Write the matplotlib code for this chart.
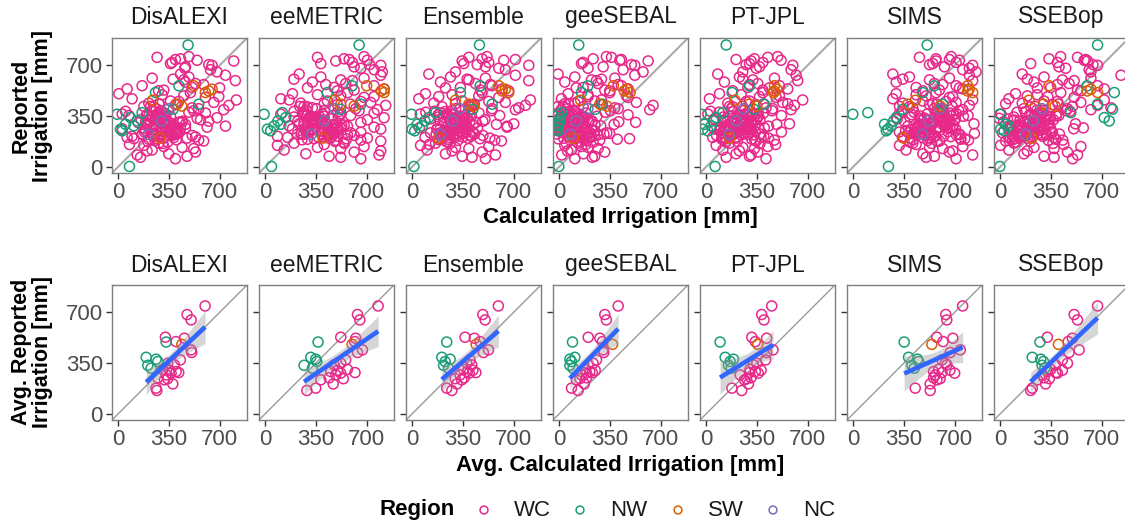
import numpy as np
import matplotlib.pyplot as plt

plt.rcParams['font.family'] = ['Liberation Sans', 'DejaVu Sans']

models = ['DisALEXI', 'eeMETRIC', 'Ensemble', 'geeSEBAL', 'PT-JPL', 'SIMS', 'SSEBop']
regions = ['WC', 'NW', 'SW', 'NC']
region_colors = {'WC': '#E7298A', 'NW': '#1B9E77', 'SW': '#D95F02', 'NC': '#7570B3'}
ticks = [0, 350, 700]

# ---- field-year values (mm): reported irrigation, one entry per field-year ----
reported_wc = [712, 745, 690, 760, 735, 670, 700, 655, 730, 720, 680, 755, 705, 740,
               640, 585, 620, 548, 600, 575, 530, 612, 560, 538, 632, 595, 525, 568, 545, 605,
               470, 505, 440, 415, 498, 455, 430, 512, 402, 480, 445, 395, 425, 462, 408, 490, 452, 418, 436, 485,
               320, 365, 290, 345, 388, 305, 332, 372, 284, 355, 312, 340, 298, 378, 326, 360, 282, 350, 308, 384,
               294, 336, 368, 316,
               248, 205, 268, 226, 186, 258, 236, 212, 275, 192, 242, 218, 264, 200, 232, 180, 252, 222, 270, 196,
               240, 208, 262, 228,
               150, 118, 165, 92, 136, 75, 128, 104, 58, 142, 84, 112, 68, 156,
               302, 246, 355, 188, 274, 331, 219, 392, 263, 310, 238, 347, 172, 286, 365, 228, 297, 254, 418, 203,
               324, 279, 361, 214, 243, 338, 195, 306, 268, 382, 231, 289, 352, 177, 316, 259, 402, 222, 271, 343,
               199, 327, 250, 374, 285, 210, 358, 236, 298, 163, 322, 266, 389, 241, 311, 184, 348, 276, 225, 434]
reported_nw = [840, 5, 364, 261, 295, 341, 375, 284, 250, 513, 433, 559, 318, 398]
reported_sw = [536, 524, 513, 433, 420, 460, 560, 200]
reported_nc = [318, 226, 402]

# calculated irrigation per model, same field-year order (WC, NW, SW, NC)
disalexi_calc = [
    362, 431, 465, 488, 545, 637, 648, 682, 797, 373, 460, 270, 625, 396,
    431, 465, 488, 511, 453, 534, 316, 236, 167, 64, 740, 808, 280, 590, 700, 380,
    98, 7, 213, 247, 305, 362, 396, 499, 556, 602, 660, 728, 763, 815, 511, 453, 419, 179, 282, 694,
    213, 30, 388, 259, 522, 142, 305, 602, 350, 76, 442, 682, 201, 488, 568, 282, 740, 362, 419, 53,
    465, 545, 327, 625,
    305, 64, 430, 167, 556, 259, 350, 98, 614, 213, 396, 511, 30, 476, 236, 590, 190, 373, 465, 110,
    327, 534, 259, 404,
    179, 236, 282, 350, 442, 476, 522, 534, 396, 316, 133, 201, 156, 80,
    288, 352, 214, 402, 305, 261, 378, 236, 330, 190, 415, 276, 342, 248, 318, 170, 365, 295, 226, 384,
    254, 338, 200, 290, 426, 312, 268, 357, 182, 240, 390, 325, 279, 206, 445, 301, 264, 347, 372, 228,
    315, 160, 408, 283, 336, 247, 198, 392, 272, 309, 221, 361, 298, 184, 428, 256, 330, 377, 243, 286,
    483, 80, -5, 18, 53, 87, 167, 110, 30, 259, 556, 420, 133, 380,
    648, 625, 602, 408, 440, 240, 520, 290,
    300, 210, 350]
eemetric_calc = [
    385, 545, 614, 682, 705, 751, 797, 808, 488, 602, 660, 362, 720, 580,
    236, 327, 385, 476, 522, 556, 614, 682, 751, 820, 797, 602, 499, 419, 293, 200,
    110, 190, 247, 293, 362, 430, 499, 568, 625, 682, 728, 774, 831, 167, 327, 522, 660, 270, 408, 751,
    316, 110, 545, 201, 648, 270, 453, 751, 167, 590, 385, 820, 236, 499, 705, 293, 568, 408, 660, 201,
    476, 339, 522, 385,
    385, 156, 522, 224, 660, 339, 590, 87, 751, 293, 476, 614, 190, 705, 430, 797, 282, 568, 499, 339,
    660, 408, 797, 250,
    87, 133, 201, 282, 362, 442, 522, 614, 660, 682, 785, 797, 522, 408,
    402, 296, 468, 255, 520, 338, 431, 287, 488, 352, 446, 310, 542, 268, 397, 476, 325, 509, 240, 455,
    372, 418, 281, 497, 436, 304, 563, 343, 461, 270, 389, 528, 316, 482, 227, 413, 356, 449, 292, 505,
    441, 330, 392, 260, 474, 365, 516, 301, 425, 547, 348, 283, 409, 459, 322, 492, 376, 438, 265, 588,
    648, 46, -5, 18, 110, 144, 121, 64, 40, 430, 660, 600, 90, 520,
    820, 800, 820, 522, 614, 480, 700, 400,
    410, 320, 480]
ensemble_calc = [
    357, 483, 506, 517, 632, 643, 804, 300, 346, 529, 598, 392, 449, 712,
    117, 197, 266, 334, 392, 437, 472, 506, 552, 621, 712, 804, 666, 540, 231, 380,
    48, 94, 151, 208, 277, 346, 414, 483, 552, 598, 643, 712, 781, 815, 735, 460, 529, 392, 300, 185,
    262, 58, 421, 183, 548, 301, 127, 462, 347, 604, 222, 379, 701, 96, 503, 275, 655, 318, 441, 156,
    582, 364, 240, 488,
    333, 91, 452, 213, 571, 292, 128, 407, 655, 251, 372, 489, 173, 536, 311, 616, 228, 395, 52, 468,
    266, 350, 195, 432,
    60, 105, 163, 231, 300, 346, 392, 483, 506, 529, 575, 277, 414, 120,
    305, 232, 362, 188, 277, 330, 214, 391, 258, 346, 199, 318, 244, 372, 285, 167, 338, 223, 404, 263,
    295, 357, 181, 312, 249, 383, 206, 327, 271, 229, 349, 292, 410, 238, 366, 175, 301, 254, 335, 217,
    386, 268, 322, 195, 353, 284, 240, 421, 309, 263, 191, 344, 276, 227, 397, 316, 252, 369, 289, 430,
    465, 14, -2, 2, 37, 117, 163, 71, 20, 334, 552, 470, 90, 420,
    643, 620, 666, 392, 426, 300, 598, 185,
    280, 200, 330]
geesebal_calc = [
    156, 236, 305, 327, 419, 442, 522, 579, 614, 167, 201, 362, 499, 430,
    -5, 41, 110, 167, 224, 270, 316, 385, 430, 476, 522, 259, 350, 408, 120, 293,
    18, 64, 110, 167, 201, 247, 293, 350, 408, 476, 533, 625, 648, 293, 385, 465, 133, -5, 41, 201,
    96, -12, 248, 44, 355, 131, 12, 187, 288, 63, 412, 158, 27, 318, 213, 476, 81, 262, 528, 112,
    380, 171, -2, 230,
    72, 205, -15, 142, 281, 31, 330, 98, 178, 402, 55, 246, 12, 121, 350, 193, -6, 269, 160, 486,
    84, 227, 40, 310,
    41, 87, 133, 170, 201, 247, 270, 316, 110, 156, 20, 60, 230, 185,
    62, 128, -8, 175, 94, 37, 151, 14, 110, 203, 48, 83, 236, 22, 140, -16, 71, 188, 30, 120,
    158, 5, 99, 214, 56, 133, -4, 167, 77, 42, 195, 106, 17, 145, 88, 226, 60, 124, -12, 182,
    34, 115, 246, 69, 9, 152, 92, 28, 171, 51, 137, 3, 103, 210, 44, 80, 160, 19, 130, 65,
    137, 0, -5, -16, 0, 10, 20, -10, -5, 156, 300, 200, 5, 250,
    467, 450, 490, 282, 330, 150, 375, 100,
    120, 80, 200]
ptjpl_calc = [
    300, 334, 369, 494, 517, 586, 598, 254, 311, 392, 346, 426, 277, 208,
    82, 128, 231, 289, 323, 357, 392, 472, 506, 563, 621, 632, 185, 300, 437, 254,
    25, 94, 151, 185, 243, 300, 346, 392, 460, 483, 529, 586, 609, 666, 414, 506, 277, 163, 563, 369,
    188, 14, 342, 121, 455, 263, 58, 397, 222, 520, 146, 306, 575, 91, 372, 238, 431, 163, 279, 33,
    488, 210, 351, 125,
    226, 47, 363, 152, 471, 258, 109, 398, 190, 316, 520, 74, 283, 431, 172, 345, 96, 242, 402, 134,
    301, 208, 60, 375,
    71, 117, 163, 208, 254, 300, 334, 357, 414, 426, 311, 231, 140, 480,
    214, 152, 288, 118, 246, 330, 183, 266, 97, 309, 205, 357, 139, 233, 276, 168, 321, 194, 252, 380,
    126, 294, 225, 162, 341, 258, 109, 236, 312, 187, 270, 146, 363, 217, 240, 299, 174, 328, 132, 261,
    207, 349, 156, 283, 228, 115, 318, 243, 196, 372, 264, 141, 305, 221, 178, 337, 250, 103, 290, 398,
    140, 64, -32, -21, -9, 71, 117, 37, 14, 181, 400, 300, 50, 330,
    488, 470, 465, 300, 350, 200, 472, 163,
    210, 160, 260]
sims_calc = [
    550, 572, 630, 676, 733, 756, 824, 847, 572, 710, 801, 458, 527, 664,
    275, 298, 389, 435, 527, 561, 595, 664, 710, 756, 801, 824, 481, 618, 733, 344,
    275, 298, 344, 389, 435, 481, 527, 572, 618, 664, 710, 756, 801, 824, 412, 504, 641, 321, 550, 687,
    476, 318, 622, 392, 728, 541, 305, 670, 448, 792, 356, 588, 833, 420, 512, 689, 378, 760, 563, 336,
    645, 463, 712, 602,
    512, 341, 668, 430, 795, 571, 383, 624, 457, 742, 320, 540, 706, 402, 836, 597, 363, 489, 651, 770,
    422, 554, 688, 455,
    321, 366, 412, 481, 527, 561, 618, 664, 710, 756, 824, 687, 504, 435,
    552, 468, 631, 415, 589, 705, 497, 612, 440, 667, 528, 574, 392, 643, 511, 726, 456, 598, 683, 482,
    620, 537, 405, 569, 655, 490, 741, 546, 428, 604, 519, 690, 463, 581, 637, 400, 558, 712, 475, 596,
    530, 652, 448, 617, 506, 673, 565, 420, 628, 542, 698, 487, 583, 437, 661, 515, 606, 454, 736, 578,
    511, 245, 0, 241, 218, 298, 103, 263, 230, 481, 618, 560, 280, 343,
    800, 790, 824, 378, 600, 430, 790, 350,
    520, 480, 600]
ssebop_calc = [
    212, 338, 407, 418, 580, 614, 672, 626, 603, 396, 453, 534, 640, 590,
    154, 235, 304, 350, 430, 476, 534, 626, 672, 718, 833, 511, 557, 396, 258, 189,
    62, 108, 154, 212, 258, 304, 361, 419, 465, 511, 557, 626, 672, 718, 764, 189, 396, 500, 40, 330,
    187, 8, 342, 96, 455, 231, 52, 298, 142, 405, 26, 266, 520, 118, 369, 204, 74, 321, 166, 482,
    245, -4, 392, 136,
    212, 61, 348, 121, 433, 255, 18, 296, 160, 386, 90, 232, 508, 137, 316, 40, 268, 186, 574, 105,
    362, 221, 72, 410,
    5, 62, 97, 166, 235, 304, 373, 465, 500, 557, 534, 189, 373, 440,
    205, 128, 276, 86, 238, 312, 161, 254, 60, 290, 183, 347, 112, 226, 265, 145, 330, 197, 243, 372,
    98, 284, 219, 150, 356, 250, 73, 232, 305, 176, 262, 120, 388, 210, 246, 300, 165, 322, 134, 270,
    192, 340, 142, 280, 214, 90, 318, 236, 188, 365, 258, 118, 296, 224, 170, 334, 242, 80, 287, 402,
    672, 0, 0, 5, 39, 718, 488, 60, 30, 787, 672, 600, 752, 775,
    626, 600, 672, 300, 380, 200, 338, 220,
    230, 180, 290]

# ---- per-field averages (mm) ----
avg_reported = [744, 685, 648, 529, 522, 499, 480, 442, 424, 373, 350, 339, 308, 302, 293,
                286, 282, 270, 250, 244, 236, 208, 179, 163, 496, 391, 378, 362, 336, 316]
avg_region = ['WC', 'WC', 'WC', 'WC', 'WC', 'WC', 'SW', 'WC', 'WC', 'WC', 'WC', 'WC', 'WC', 'WC', 'WC',
              'WC', 'WC', 'WC', 'WC', 'WC', 'WC', 'WC', 'WC', 'WC', 'NW', 'NW', 'NW', 'NW', 'NW', 'NW']
disalexi_avg = [600, 476, 504, 327, 458, 400, 440, 504, 508, 430, 343, 389, 309, 355, 401,
                419, 366, 332, 275, 343, 321, 378, 263, 268, 332, 195, 263, 275, 206, 229]
eemetric_avg = [779, 637, 653, 522, 625, 618, 600, 671, 637, 556, 522, 476, 568, 499, 453,
                620, 522, 488, 442, 540, 385, 470, 350, 289, 366, 316, 350, 357, 270, 327]
ensemble_avg = [595, 488, 504, 366, 430, 469, 442, 527, 492, 400, 378, 412, 355, 420, 382,
                440, 395, 332, 360, 298, 343, 310, 240, 275, 240, 206, 263, 229, 218, 252]
geesebal_avg = [408, 316, 327, 202, 282, 300, 369, 305, 309, 259, 236, 202, 179, 250, 213,
                230, 190, 156, 190, 145, 121, 175, 87, 133, 94, 110, 76, 87, 76, 98]
ptjpl_avg = [453, 384, 400, 316, 418, 340, 357, 462, 418, 411, 350, 327, 304, 380, 340,
             300, 360, 236, 310, 280, 265, 293, 179, 247, 98, 133, 190, 167, 156, 175]
sims_avg = [755, 639, 646, 577, 688, 620, 543, 739, 670, 613, 636, 647, 590, 668, 555,
            613, 700, 567, 555, 600, 578, 532, 429, 532, 353, 383, 445, 452, 406, 422]
ssebop_avg = [672, 511, 534, 327, 499, 470, 403, 545, 476, 430, 465, 384, 350, 430, 327,
              384, 396, 292, 304, 340, 258, 315, 223, 212, 276, 223, 281, 300, 290, 310]

calc_by_model = dict(zip(models, [disalexi_calc, eemetric_calc, ensemble_calc, geesebal_calc,
                                  ptjpl_calc, sims_calc, ssebop_calc]))
avg_by_model = dict(zip(models, [disalexi_avg, eemetric_avg, ensemble_avg, geesebal_avg,
                                 ptjpl_avg, sims_avg, ssebop_avg]))

reported = reported_wc + reported_nw + reported_sw + reported_nc
point_colors = ([region_colors['WC']] * len(reported_wc) + [region_colors['NW']] * len(reported_nw)
                + [region_colors['SW']] * len(reported_sw) + [region_colors['NC']] * len(reported_nc))
avg_colors = [region_colors[r] for r in avg_region]

# ---- layout in pixels ----
W, H = 1125, 527
fig = plt.figure(figsize=(W / 100, H / 100), dpi=100)
lefts = [112, 259, 406, 553, 700, 847, 994]
size = 135
lim = (-40, 888)


def make_panel(left, top, show_y):
    ax = fig.add_axes([left / W, 1 - (top + size) / H, size / W, size / H])
    ax.set_xlim(lim)
    ax.set_ylim(lim)
    ax.set_xticks(ticks)
    ax.set_yticks(ticks)
    if not show_y:
        ax.tick_params(axis='y', labelleft=False)
    ax.tick_params(length=4, width=1.0, color='#333333', labelsize=16,
                   labelcolor='#4D4D4D', pad=2.5)
    for sp in ax.spines.values():
        sp.set_color('#7F7F7F')
        sp.set_linewidth(1.0)
    return ax


def add_smooth(ax, x, y):
    x = np.asarray(x, float)
    y = np.asarray(y, float)
    n = len(x)
    slope, icpt = np.polyfit(x, y, 1)
    grid = np.linspace(x.min(), x.max(), 100)
    fit = icpt + slope * grid
    resid = y - (icpt + slope * x)
    s = np.sqrt(np.sum(resid ** 2) / (n - 2))
    se = s * np.sqrt(1 / n + (grid - x.mean()) ** 2 / np.sum((x - x.mean()) ** 2))
    t = 2.048  # 95% two-sided, n - 2 = 28 dof
    ax.fill_between(grid, fit - t * se, fit + t * se, color='#999999', alpha=0.4, lw=0, zorder=3)
    ax.plot(grid, fit, color='#3366FF', lw=3.3, zorder=4, solid_capstyle='butt')


for i, (m, left) in enumerate(zip(models, lefts)):
    # top row: individual field-years
    ax = make_panel(left, 38, i == 0)
    ax.plot(lim, lim, color='#ABABAB', lw=1.5, zorder=1)
    ax.scatter(calc_by_model[m], reported, s=52, facecolors='none',
               edgecolors=point_colors, linewidths=1.1, zorder=2)
    fig.text((left + size / 2) / W, 1 - 17 / H, m, ha='center', va='center',
             fontsize=16.5, color='#1A1A1A')

    # bottom row: field averages with linear fit
    ax2 = make_panel(left, 285, i == 0)
    ax2.plot(lim, lim, color='#999999', lw=1.0, zorder=1)
    ax2.scatter(avg_by_model[m], avg_reported, s=52, facecolors='none',
                edgecolors=avg_colors, linewidths=1.1, zorder=2)
    add_smooth(ax2, avg_by_model[m], avg_reported)
    fig.text((left + size / 2) / W, 1 - 265 / H, m, ha='center', va='center',
             fontsize=16.5, color='#1A1A1A')

fig.text(620 / W, 1 - 218 / H, 'Calculated Irrigation [mm]', ha='center', va='center',
         fontsize=16, fontweight='bold')
fig.text(620 / W, 1 - 465 / H, 'Avg. Calculated Irrigation [mm]', ha='center', va='center',
         fontsize=16, fontweight='bold')
fig.text(32 / W, 1 - 106 / H, 'Reported\nIrrigation [mm]', rotation=90, ha='center', va='center',
         fontsize=15.5, fontweight='bold', linespacing=1.0, multialignment='center')
fig.text(32 / W, 1 - 352 / H, 'Avg. Reported\nIrrigation [mm]', rotation=90, ha='center',
         va='center', fontsize=15.5, fontweight='bold', linespacing=1.0, multialignment='center')

# legend along the bottom
lax = fig.add_axes([0, 0, 1, 1], zorder=-1)
lax.set_xlim(0, W)
lax.set_ylim(H, 0)
lax.axis('off')
lax.text(417, 510, 'Region', ha='center', va='center', fontsize=16, fontweight='bold')
for r, cx in zip(regions, [484, 580, 678, 773]):
    lax.scatter([cx], [510], s=32, facecolors='none', edgecolors=region_colors[r], linewidths=1.1)
    lax.text(cx + 30, 510, r, ha='left', va='center', fontsize=16, color='#1A1A1A')

fig.savefig('out.png', dpi=100, facecolor='white')
